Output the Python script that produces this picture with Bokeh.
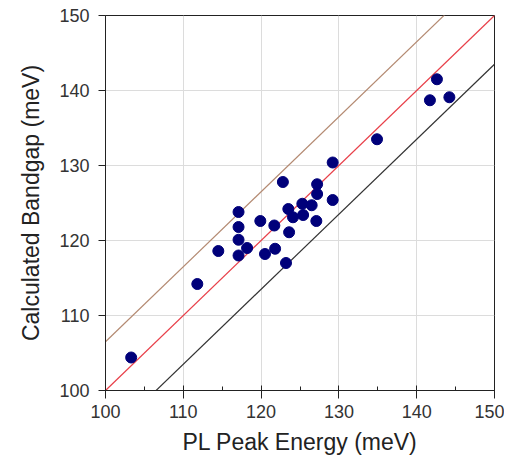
from bokeh.plotting import figure
from bokeh.models import ColumnDataSource, SingleIntervalTicker, Range1d
from bokeh.embed import file_html
from bokeh.resources import INLINE

pl_peak = [103.3, 111.8, 114.5, 117.1, 117.1, 117.1, 117.1, 118.2, 119.9, 120.5,
           121.7, 121.8, 122.8, 123.5, 123.6, 123.2, 124.1, 125.3, 125.4, 126.5,
           127.2, 127.2, 127.1, 129.2, 129.2, 134.9, 141.7, 142.6, 144.2]
bandgap = [104.4, 114.2, 118.6, 123.8, 121.8, 120.1, 118.0, 119.0, 122.6, 118.2,
           122.0, 118.9, 127.8, 124.2, 121.1, 117.0, 123.1, 124.9, 123.4, 124.7,
           127.5, 126.2, 122.6, 130.4, 125.4, 133.5, 138.7, 141.5, 139.1]
line_offsets = [6.5, 0.0, -6.5]
line_colors = ["#b48a72", "#e8404a", "#333333"]

xmin, xmax = 100, 150
p = figure(frame_width=389, frame_height=375, output_backend="svg", toolbar_location=None,
           x_range=Range1d(xmin, xmax), y_range=Range1d(100, 150),
           min_border_left=105, min_border_top=15, min_border_right=10, min_border_bottom=60,
           background_fill_color="white")

for off, col in zip(line_offsets, line_colors):
    p.line([xmin, xmax], [xmin + off, xmax + off], line_color=col, line_width=1.2)

src = ColumnDataSource(dict(x=pl_peak, y=bandgap))
p.scatter("x", "y", source=src, size=11, fill_color="#00007a", line_color="#00007a")

p.xaxis.ticker = SingleIntervalTicker(interval=10, num_minor_ticks=2)
p.yaxis.ticker = SingleIntervalTicker(interval=10, num_minor_ticks=0)
for ax in (p.xaxis, p.yaxis):
    ax.axis_line_color = "#222222"
    ax.major_tick_line_color = "#222222"
    ax.minor_tick_line_color = "#222222"
    ax.major_label_text_font = "Liberation Sans"
    ax.major_label_text_font_size = "18px"
    ax.major_label_text_color = "#333333"
    ax.axis_label_text_font = "Liberation Sans"
    ax.axis_label_text_font_size = "23px"
    ax.axis_label_text_font_style = "normal"
    ax.axis_label_text_color = "#222222"
p.xaxis.major_tick_in = 5
p.xaxis.major_tick_out = 8
p.xaxis.minor_tick_in = 4
p.xaxis.minor_tick_out = 0
p.yaxis.major_tick_in = 0
p.yaxis.major_tick_out = 7
p.xaxis.major_label_standoff = 6
p.yaxis.major_label_standoff = 9
p.xaxis.axis_label_standoff = 8
p.yaxis.axis_label_standoff = 12
p.xaxis.axis_label = "PL Peak Energy (meV)"
p.yaxis.axis_label = "Calculated Bandgap (meV)"

p.grid.grid_line_color = "#dcdcdc"
p.grid.grid_line_width = 1
p.outline_line_color = "#222222"
p.outline_line_alpha = 1

open("out.html", "w").write(file_html(p, INLINE))
